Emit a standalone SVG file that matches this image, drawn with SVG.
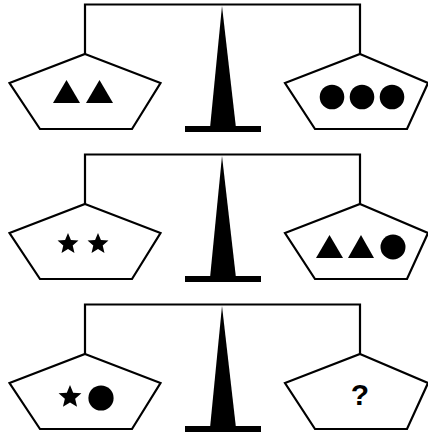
<svg xmlns="http://www.w3.org/2000/svg" xmlns:xlink="http://www.w3.org/1999/xlink" width="428" height="434" viewBox="0 0 428 434">
<style>
.line{fill:none;stroke:#000;stroke-width:2.2;stroke-linejoin:miter}
.pan{fill:#fff;stroke:#000;stroke-width:2.2;stroke-linejoin:miter}
.solid{fill:#000;stroke:none}
.q{font-family:"Liberation Sans",Arial,sans-serif;font-weight:bold;font-size:30px;fill:#000}
</style>
<defs>
<polygon id="panL" class="pan" points="85,54 160.5,83 132,129 40,129 9.5,83"/>
<polygon id="panR" class="pan" points="360,54 428,83 407,129 315,129 285,83"/>
<g id="postShape">
<polygon class="solid" points="222,6 236,128 210,128"/>
<rect class="solid" x="185" y="126" width="76" height="6"/>
</g>
<polygon id="star" class="solid" points="0,-10 2.65,-3.64 9.51,-3.09 4.28,1.39 5.88,8.09 0,4.5 -5.88,8.09 -4.28,1.39 -9.51,-3.09 -2.65,-3.64"/>
</defs>

<g id="connectors">
<polyline class="line" points="85,54 85,4.5 360,4.5 360,54"/>
<polyline class="line" points="85,204 85,154.5 360,154.5 360,204"/>
<polyline class="line" points="85,354 85,304.5 360,304.5 360,354"/>
</g>

<g id="scale1">
<g id="post1"><use xlink:href="#postShape"/></g>
<g id="left1"><use xlink:href="#panL"/>
<polygon class="solid" points="66.5,80 80,103 53,103"/>
<polygon class="solid" points="99.5,80 113,103 86,103"/>
</g>
<g id="right1"><use xlink:href="#panR"/>
<circle class="solid" cx="332" cy="97" r="12.3"/>
<circle class="solid" cx="362" cy="97" r="12.3"/>
<circle class="solid" cx="392" cy="97" r="12.3"/>
</g>
</g>

<g id="scale2" transform="translate(0,150)">
<g id="post2"><use xlink:href="#postShape"/></g>
<g id="left2"><use xlink:href="#panL"/>
<use xlink:href="#star" transform="translate(68,94) scale(1.1)"/>
<use xlink:href="#star" transform="translate(98,94) scale(1.1)"/>
</g>
<g id="right2"><use xlink:href="#panR"/>
<polygon class="solid" points="329.5,85 343,108 316,108"/>
<polygon class="solid" points="361,85 374,108 348,108"/>
<circle class="solid" cx="393" cy="97" r="12.5"/>
</g>
</g>

<g id="scale3" transform="translate(0,300)">
<g id="post3"><use xlink:href="#postShape"/></g>
<g id="left3"><use xlink:href="#panL"/>
<use xlink:href="#star" transform="translate(70,97) scale(1.2)"/>
<circle class="solid" cx="101" cy="98" r="12.6"/>
</g>
<g id="right3"><use xlink:href="#panR"/>
<text class="q" x="360" y="105" text-anchor="middle">?</text>
</g>
</g>
</svg>
